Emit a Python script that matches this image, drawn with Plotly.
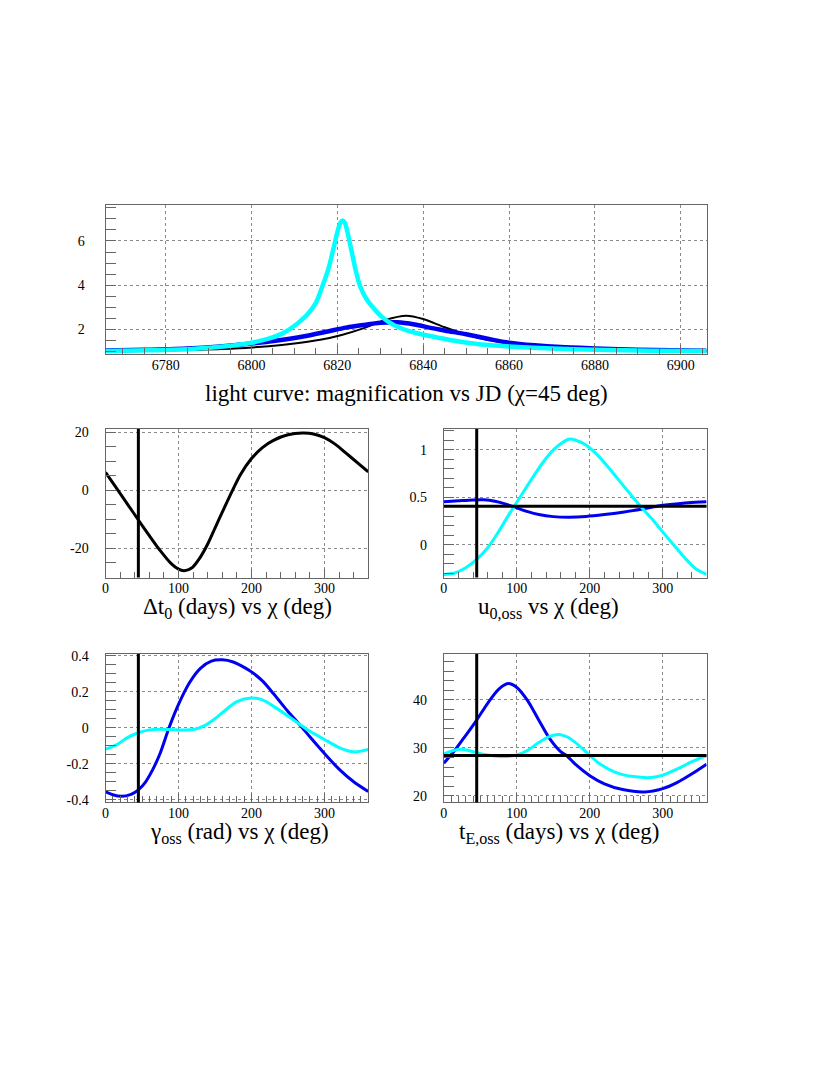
import plotly.graph_objects as go

# ---------------- data: light curve (magnification vs JD) ----------------
jd_black = [6766, 6776, 6786, 6796, 6804, 6810, 6816, 6821, 6826, 6831, 6836, 6840, 6845, 6850,
            6855, 6860, 6866, 6876, 6886, 6896, 6906]
mag_black = [1.03, 1.05, 1.08, 1.14, 1.24, 1.36, 1.53, 1.75, 2.05, 2.42, 2.62, 2.47, 2.10, 1.77,
             1.53, 1.39, 1.27, 1.16, 1.10, 1.06, 1.04]

jd_blue = [6766, 6775, 6785, 6792, 6800, 6806, 6812, 6818, 6822, 6826, 6830, 6834, 6838, 6842,
           6846, 6850, 6855, 6860, 6866, 6872, 6880, 6890, 6906]
mag_blue = [1.05, 1.08, 1.14, 1.22, 1.36, 1.50, 1.68, 1.92, 2.08, 2.20, 2.30, 2.32, 2.22, 2.06,
            1.92, 1.78, 1.58, 1.40, 1.28, 1.20, 1.14, 1.08, 1.04]

jd_cyan = [6766, 6776, 6786, 6794, 6800, 6804, 6807, 6809, 6811, 6813, 6815, 6816.5, 6818,
           6819.2, 6820.2, 6820.8, 6821.2, 6821.7, 6822.3, 6823.3, 6824.3, 6825.3, 6826.7, 6828.7,
           6830.3, 6832, 6834, 6836.5, 6839.5, 6843, 6847, 6853, 6860, 6870, 6880, 6893, 6906]
mag_cyan = [1.03, 1.06, 1.12, 1.24, 1.40, 1.58, 1.80, 2.02, 2.32, 2.68, 3.20, 3.95, 4.80,
            5.75, 6.55, 6.86, 6.93, 6.84, 6.45, 5.55, 4.65, 3.95, 3.40, 2.90,
            2.58, 2.33, 2.12, 1.93, 1.78, 1.65, 1.50, 1.33, 1.23, 1.14, 1.08, 1.04, 1.03]

# ---------------- data: parameters vs chi ----------------
chi_ref = 45          # chi used for the light curve (deg)
u0_ref = 0.406        # reference u0
tE_ref = 28.4         # reference tE (days)

chi_dt0 = [0, 15, 30, 45, 60, 75, 90, 100, 108, 118, 130, 140, 150, 160, 174, 185, 200, 215, 230,
           250, 270, 285, 300, 315, 330, 345, 360]
dt0_black = [6.2, 0.8, -4.7, -10.2, -15.6, -20.8, -25.3, -27.2, -27.7, -26.8, -23.0, -18.5, -13.0,
             -7.5, 0.0, 5.5, 11.0, 14.8, 17.3, 19.2, 19.8, 19.5, 18.2, 15.9, 12.8, 9.6, 6.4]

chi_u0_cyan = [0, 15, 30, 45, 60, 75, 90, 105, 120, 135, 150, 165, 172, 180, 195, 210, 225, 240,
               255, 268, 285, 300, 315, 330, 345, 360]
u0_cyan = [-0.31, -0.295, -0.24, -0.153, -0.03, 0.14, 0.33, 0.51, 0.69, 0.86, 1.00, 1.09, 1.115,
           1.105, 1.05, 0.95, 0.82, 0.68, 0.54, 0.42, 0.275, 0.135, 0.0, -0.135, -0.25, -0.31]
chi_u0_blue = [0, 20, 40, 55, 70, 85, 100, 115, 130, 150, 172, 195, 220, 245, 270, 290, 310, 335, 360]
u0_blue = [0.455, 0.465, 0.474, 0.475, 0.46, 0.43, 0.39, 0.35, 0.32, 0.298, 0.292, 0.30, 0.32,
           0.345, 0.375, 0.405, 0.425, 0.445, 0.455]

chi_g_blue = [0, 10, 22, 35, 45, 55, 65, 75, 87, 100, 115, 130, 145, 160, 175, 190, 200, 215, 230,
              250, 265, 280, 300, 320, 340, 360]
gamma_blue = [-0.354, -0.372, -0.381, -0.37, -0.345, -0.30, -0.23, -0.14, 0.0, 0.13, 0.25, 0.33,
              0.37, 0.377, 0.365, 0.335, 0.31, 0.26, 0.19, 0.09, 0.022, -0.05, -0.143, -0.23,
              -0.30, -0.354]
chi_g_cyan = [0, 15, 30, 45, 60, 75, 90, 105, 120, 135, 150, 165, 180, 200, 215, 230, 250, 265,
              280, 300, 320, 340, 360]
gamma_cyan = [-0.119, -0.095, -0.055, -0.028, -0.012, -0.008, -0.01, -0.012, -0.01, 0.01, 0.05,
              0.10, 0.145, 0.165, 0.155, 0.12, 0.065, 0.022, -0.02, -0.065, -0.11, -0.134, -0.12]

chi_tE_blue = [0, 15, 30, 45, 60, 75, 88, 100, 115, 130, 145, 160, 168, 180, 200, 220, 245, 275,
               300, 320, 340, 360]
tE_blue = [26.8, 29.5, 32.6, 35.8, 39.3, 42.2, 43.4, 42.6, 39.8, 35.8, 31.9, 29.2, 28.4, 26.6,
           24.2, 22.5, 21.3, 20.8, 21.5, 22.8, 24.6, 26.6]
chi_tE_cyan = [0, 12, 25, 40, 55, 70, 85, 100, 115, 130, 145, 158, 170, 185, 200, 215, 235, 260,
               284, 300, 320, 340, 360]
tE_cyan = [28.7, 29.4, 29.7, 29.2, 28.6, 28.3, 28.2, 28.5, 29.5, 31.1, 32.4, 32.8, 32.2, 30.5,
           28.4, 26.5, 24.9, 24.0, 23.8, 24.3, 25.6, 27.1, 28.4]

# tick labels
lc_y_ticks = [2, 4, 6]
lc_y_labels = ["2", "4", "6"]
dt0_ticks = [-20, 0, 20]
dt0_labels = ["-20", "0", "20"]
u0_ticks = [0, 0.5, 1]
u0_labels = ["0", "0.5", "1"]
g_ticks = [-0.4, -0.2, 0, 0.2, 0.4]
g_labels = ["-0.4", "-0.2", "0", "0.2", "0.4"]
tE_ticks = [20, 30, 40]
tE_labels = ["20", "30", "40"]

titles = ["light curve: magnification vs JD (\u03c7=45 deg)",
          "\u0394t<sub>0</sub> (days) vs \u03c7 (deg)",
          "u<sub>0,oss</sub> vs \u03c7 (deg)",
          "\u03b3<sub>oss</sub> (rad) vs \u03c7 (deg)",
          "t<sub>E,oss</sub> (days) vs \u03c7 (deg)"]

# ---------------- styles ----------------
OFF = 8                      # page body margin of the html page
W, H = 830 - 2 * OFF, 1075 - 2 * OFF
BLUE = "#0000f0"
CYAN = "#00ffff"
FONT = "Liberation Serif"
AXC = "#666666"
GRIDC = "#8a8a8a"


def px(x):
    return (x - OFF) / W


def py(y):
    return 1 - (y - OFF) / H


fig = go.Figure()


def line(x, y, color, width, xa, ya):
    fig.add_trace(go.Scatter(x=x, y=y, mode="lines",
                             line=dict(color=color, width=width, shape="spline", smoothing=0.8),
                             xaxis=xa, yaxis=ya, showlegend=False, hoverinfo="skip"))


# top panel
line(jd_black, mag_black, "black", 2, "x", "y")
line(jd_blue, mag_blue, BLUE, 4.5, "x", "y")
line(jd_cyan, mag_cyan, CYAN, 4.5, "x", "y")
# middle left
line(chi_dt0, dt0_black, "black", 3, "x2", "y2")
# middle right
line(chi_u0_blue, u0_blue, BLUE, 3, "x3", "y3")
line(chi_u0_cyan, u0_cyan, CYAN, 3, "x3", "y3")
# bottom left
line(chi_g_blue, gamma_blue, BLUE, 3, "x4", "y4")
line(chi_g_cyan, gamma_cyan, CYAN, 3, "x4", "y4")
# bottom right
line(chi_tE_blue, tE_blue, BLUE, 3, "x5", "y5")
line(chi_tE_cyan, tE_cyan, CYAN, 3, "x5", "y5")

# reference lines
for xa, ya in [("x2", "y2"), ("x3", "y3"), ("x4", "y4"), ("x5", "y5")]:
    fig.add_shape(type="line", xref=xa, yref=ya + " domain", x0=chi_ref, x1=chi_ref, y0=0, y1=1,
                  line=dict(color="black", width=3), layer="above")
fig.add_shape(type="line", xref="x3 domain", yref="y3", x0=0, x1=1, y0=u0_ref, y1=u0_ref,
              line=dict(color="black", width=3), layer="above")
fig.add_shape(type="line", xref="x5 domain", yref="y5", x0=0, x1=1, y0=tE_ref, y1=tE_ref,
              line=dict(color="black", width=3), layer="above")

TICKFONT = dict(family=FONT, size=14, color="black")


def xax(dom, rng, dtick, minor, anchor):
    return dict(domain=dom, range=rng, anchor=anchor, dtick=dtick, tick0=0, ticks="inside", ticklen=9,
                tickcolor=AXC, showline=True, linecolor=AXC, linewidth=1, mirror=True,
                showgrid=True, gridcolor=GRIDC, griddash="dot", gridwidth=1, zeroline=False,
                tickfont=TICKFONT, ticklabelstandoff=-2,
                minor=dict(dtick=minor, ticks="inside", ticklen=6, tickcolor=AXC, showgrid=False))


def yax(dom, rng, tv, tt, minor, anchor, standoff=13):
    return dict(domain=dom, range=rng, anchor=anchor, tickvals=tv, ticktext=tt, ticks="inside", ticklen=10,
                tickcolor=AXC, showline=True, linecolor=AXC, linewidth=1, mirror=True,
                showgrid=True, gridcolor=GRIDC, griddash="dot", gridwidth=1, zeroline=False,
                tickfont=TICKFONT, ticklabelstandoff=standoff,
                minor=dict(dtick=minor, tick0=0, ticks="inside", ticklen=10, tickcolor=AXC, showgrid=False))


xl = [px(102), px(366)]
xr = [px(442), px(706)]
fig.update_layout(
    width=W, height=H, margin=dict(l=0, r=0, t=0, b=0),
    paper_bgcolor="white", plot_bgcolor="white", showlegend=False,
    xaxis=xax([px(102), px(706)], [6766, 6906], 20, 5, "y"),
    yaxis=yax([py(352), py(202)], [0.9, 7.62], lc_y_ticks, lc_y_labels, 0.5, "x", standoff=17),
    xaxis2=xax(xl, [0, 360], 100, 20, "y2"),
    yaxis2=yax([py(578), py(428)], [-30.1, 21.2], dt0_ticks, dt0_labels, 5, "x2"),
    xaxis3=xax(xr, [0, 360], 100, 20, "y3"),
    yaxis3=yax([py(578), py(428)], [-0.344, 1.22], u0_ticks, u0_labels, 0.1, "x3"),
    xaxis4=xax(xl, [0, 360], 100, 10, "y4"),
    yaxis4=yax([py(805), py(655)], [-0.415, 0.41], g_ticks, g_labels, 0.05, "x4"),
    xaxis5=xax(xr, [0, 360], 100, 10, "y5"),
    yaxis5=yax([py(805), py(655)], [18.6, 49.6], tE_ticks, tE_labels, 2, "x5"),
)

title_pos = [(404, 392), (235, 609), (547, 609), (237, 836), (558, 836)]
for t, (cx, cy) in zip(titles, title_pos):
    fig.add_annotation(text=t, x=px(cx), y=py(cy), xref="paper", yref="paper", showarrow=False,
                       xanchor="center", yanchor="middle", font=dict(family=FONT, size=23, color="black"))

fig.write_html("out.html")
